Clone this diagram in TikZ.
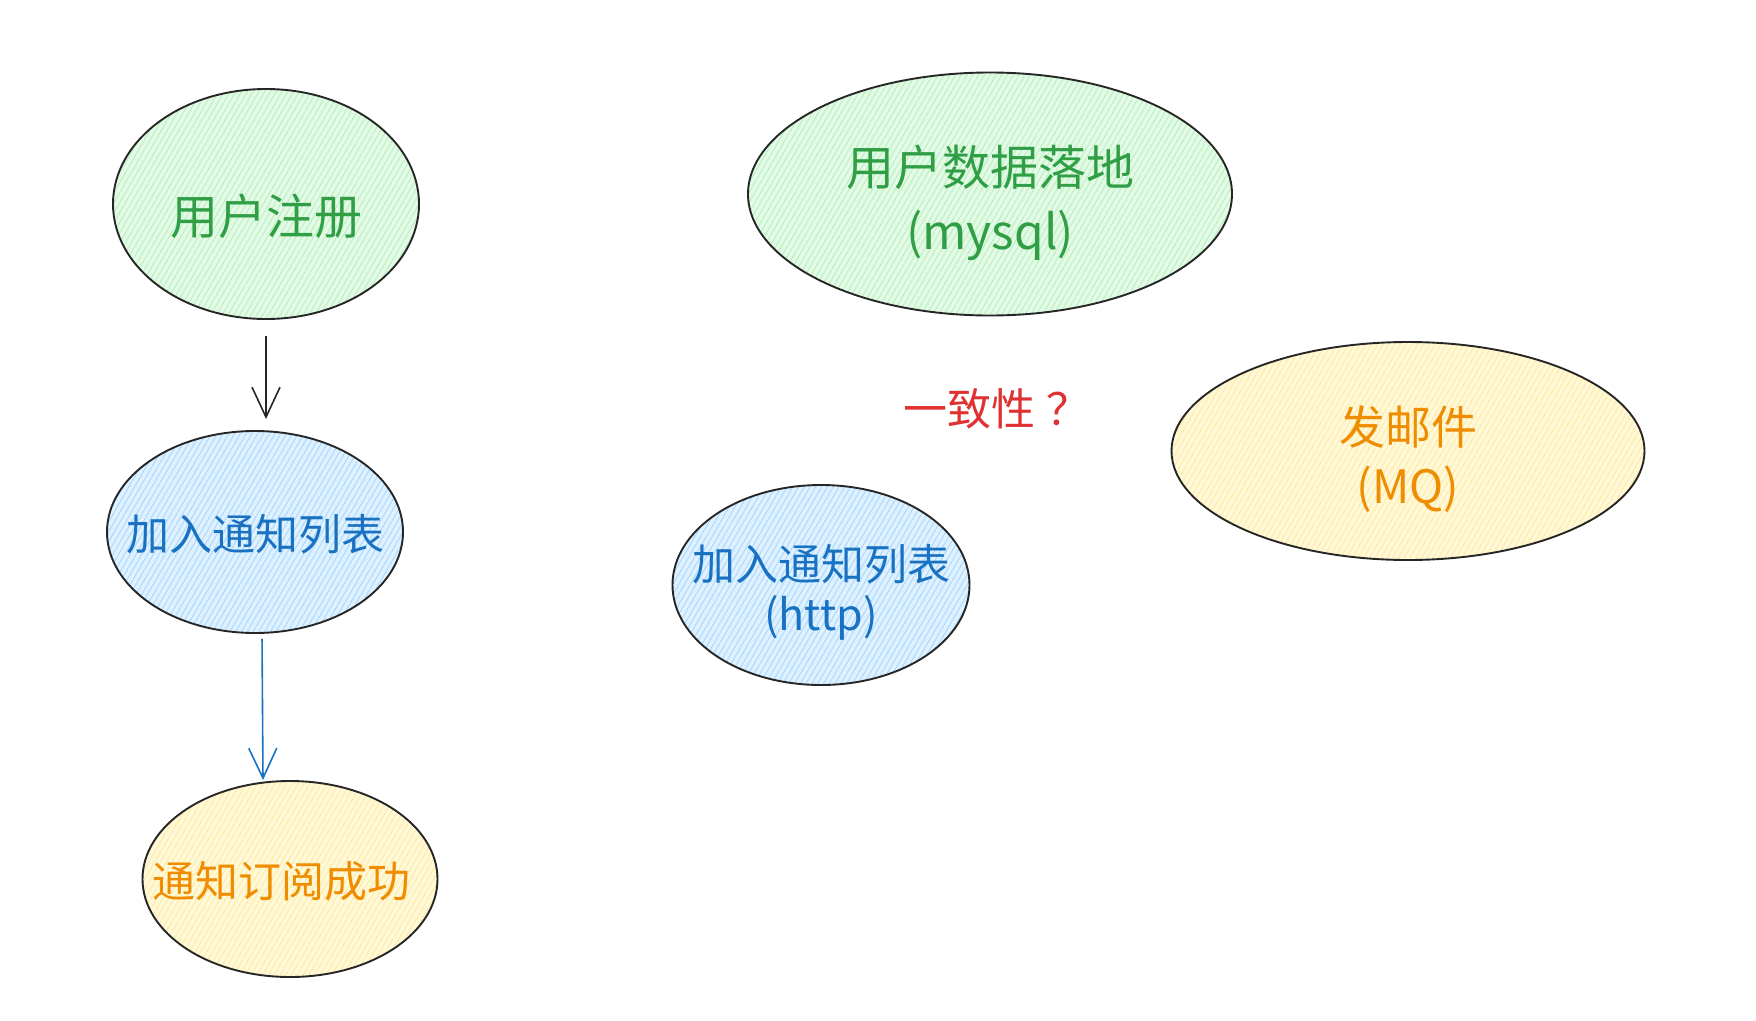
\documentclass[tikz,border=0pt]{standalone}
\usepackage{fontspec}
\usepackage{tikz}
\usetikzlibrary{arrows.meta,positioning,calc,patterns.meta,shapes.geometric}
\newfontfamily\hand{Noto Sans CJK SC}
% zero-width text so the ellipse keeps its own size; optional downward shift
\newcommand{\nowidth}[2][0pt]{\makebox[0pt]{\raisebox{0pt}[\dimexpr\height+#1][\depth]{#2}}}

\definecolor{greenfill}{HTML}{B2F2BB}
\definecolor{bluefill}{HTML}{A5D8FF}
\definecolor{yellowfill}{HTML}{FFEC99}
\definecolor{greentext}{HTML}{2F9E44}
\definecolor{bluetext}{HTML}{1971C2}
\definecolor{orangetext}{HTML}{F08C00}
\definecolor{redtext}{HTML}{E03131}

\begin{document}
\begin{tikzpicture}[x=1pt, y=-1pt,
    blob/.style={ellipse, draw=black!85, line width=1.9pt, inner sep=0pt, align=center, font=\hand},
    hatch/.style={preaction={fill=#1!35}, pattern={Lines[angle=60,distance=5pt,line width=0.9pt]}, pattern color=#1},
    flow/.style={-{Straight Barb[length=30pt,width=28pt,line width=1.6pt]}, line width=1.6pt}]
    \useasboundingbox (0,0) rectangle (1756,1020);

    % Left column
    \node[blob, hatch=greenfill, minimum width=306, minimum height=230, text=greentext,
          font=\hand\fontsize{48}{56}\selectfont] (reg) at (266,204) {\nowidth[24pt]{用户注册}};
    \node[blob, hatch=bluefill, minimum width=296, minimum height=202, text=bluetext,
          font=\hand\fontsize{43}{50}\selectfont] (list) at (255,532) {\nowidth[4pt]{加入通知列表}};
    \node[blob, hatch=yellowfill, minimum width=295, minimum height=196, text=orangetext,
          font=\hand\fontsize{43}{50}\selectfont] (done) at (290,879) {\nowidth[4pt]{\hspace{-18pt}通知订阅成功}};

    % Arrows
    \draw[flow, black!85, shorten <=17pt, shorten >=11pt] (reg.south) -- (reg.south |- list.north);
    \draw[flow, bluetext, shorten <=5pt] ($(list.south)+(7,0)$) -- ($(list.south |- done.north)+(8,0)$);

    % Right side
    \node[blob, hatch=greenfill, minimum width=484, minimum height=243, text=greentext,
          font=\hand\fontsize{48}{64}\selectfont] (db) at (990,194) {\nowidth[18pt]{用户数据落地}\\\nowidth{(mysql)}};
    \node[blob, hatch=yellowfill, minimum width=473, minimum height=218, text=orangetext,
          font=\hand\fontsize{46}{59}\selectfont] (mail) at (1408,451) {\nowidth[16pt]{发邮件}\\\nowidth{(MQ)}};
    \node[blob, hatch=bluefill, minimum width=297, minimum height=200, text=bluetext,
          font=\hand\fontsize{43}{50}\selectfont] (http) at (821,585) {\nowidth[14pt]{加入通知列表}\\\nowidth{(http)}};

    % Question
    \node[text=redtext, font=\hand\fontsize{44}{50}\selectfont] (ask) at (997,409) {一致性\hspace{12pt}？};
\end{tikzpicture}
\end{document}
